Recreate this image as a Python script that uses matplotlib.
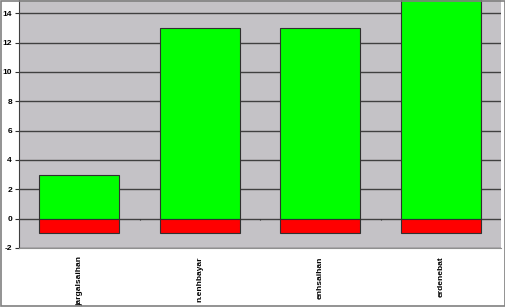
import matplotlib.pyplot as plt
import numpy as np
from matplotlib.patches import Rectangle

names = ["jargalsaihan", "n.enhbayar", "enhsaihan", "erdenebat"]
positive = [3, 13, 13, 16]
negative = [-1, -1, -1, -1]
yticks = [-2, 0, 2, 4, 6, 8, 10, 12, 14]

plt.rcParams["font.family"] = ["Liberation Sans", "DejaVu Sans"]

fig = plt.figure(figsize=(5.06, 3.07), dpi=100)
ax = fig.add_axes([19 / 506, 59 / 307, 482 / 506, 248 / 307])
ax.set_facecolor("#c4c2c6")

x = np.arange(len(names))
ax.bar(x, positive, width=0.667, color="#00ff00", edgecolor="#303030", linewidth=0.8, zorder=3)
ax.bar(x, negative, width=0.667, color="#ff0000", edgecolor="#303030", linewidth=0.8, zorder=3)

ax.set_xlim(-0.5, len(names) - 0.5)
ax.set_ylim(-2, 14.9)
ax.set_yticks(yticks)
ax.set_yticklabels([str(t) for t in yticks], fontsize=6, fontweight="bold")
ax.yaxis.grid(True, color="#404040", linewidth=1.0, zorder=1)
ax.set_axisbelow(True)

# small ticks on the zero line between categories
ax.vlines(x[:-1] + 0.5, -0.12, 0, color="#303030", linewidth=0.8, zorder=2)

ax.set_xticks(x)
ax.set_xticklabels(names, rotation=90, fontsize=6, fontweight="bold", va="top")
ax.tick_params(axis="x", length=0, pad=6)
ax.tick_params(axis="y", length=3, width=0.8, color="#303030", pad=2)

ax.spines["left"].set_color("#404040")
ax.spines["bottom"].set_color("#909090")
ax.spines["top"].set_visible(False)
ax.spines["right"].set_visible(False)

fig.patches.append(Rectangle((0.001, 0.002), 0.997, 0.996, transform=fig.transFigure,
                             fill=False, edgecolor="#808080", linewidth=1.2))

fig.savefig("out.png", dpi=100)
